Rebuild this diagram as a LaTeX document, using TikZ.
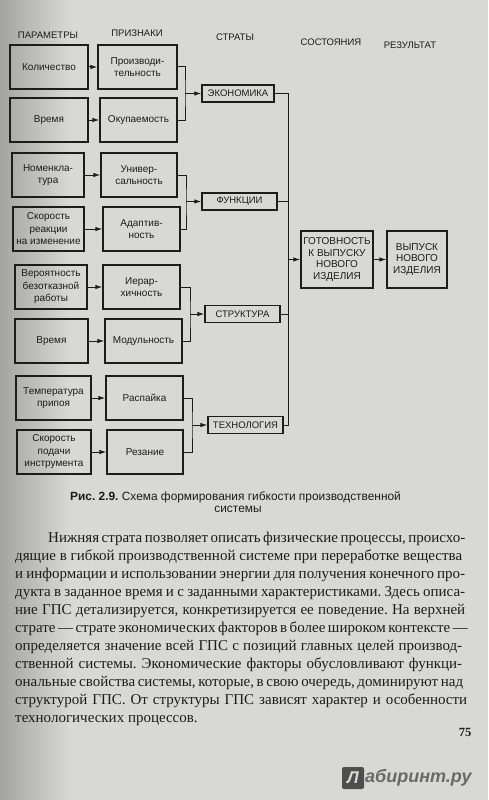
\documentclass[tikz,border=0pt]{standalone}
\usepackage{fontspec}
\setmainfont{Liberation Serif}
\newfontfamily\diag{Liberation Sans}
\usetikzlibrary{arrows.meta}
\definecolor{paper}{HTML}{D8D8D6}
\definecolor{paperdark}{HTML}{A4A4A2}
\definecolor{ink}{HTML}{1C1C1C}
\definecolor{logo}{HTML}{4E4E4E}
\frenchspacing
\tikzset{
  hdr/.style={font=\diag\fontsize{9.5}{11}\selectfont, text=ink, inner sep=0pt},
  pbox/.style={draw=ink, line width=1.2pt, font=\diag\fontsize{10}{12.5}\selectfont, text=ink, align=center, inner sep=1pt, minimum height=44pt},
  sbox/.style={draw=ink, line width=1.2pt, font=\diag\fontsize{9.5}{11}\selectfont, text=ink, inner sep=1pt, minimum height=17pt, minimum width=75pt},
  rbox/.style={draw=ink, line width=1.2pt, font=\diag\fontsize{10}{11.5}\selectfont, text=ink, align=center, inner sep=1pt, minimum height=57pt},
  link/.style={draw=ink, line width=1pt},
  arr/.style={link, -{Latex[length=7pt,width=4.5pt]}},
  body/.style={font=\fontsize{15}{18}\selectfont, text=ink, inner sep=0pt, anchor=base west},
}
\begin{document}
\begin{tikzpicture}[x=1pt,y=-1pt]
\useasboundingbox (0,0) rectangle (488,800);
\fill[paper] (0,0) rectangle (488,800);
\shade[left color=paperdark, right color=paper] (0,0) rectangle (70,800);

% headers
\node[hdr] (h1) at (48,35) {ПАРАМЕТРЫ};
\node[hdr] (h2) at (137,33) {ПРИЗНАКИ};
\node[hdr] (h3) at (235,37) {СТРАТЫ};
\node[hdr] (h4) at (331,42) {СОСТОЯНИЯ};
\node[hdr] (h5) at (410,45) {РЕЗУЛЬТАТ};

% parameters
\node[pbox, minimum width=78pt] (l1) at (49,67) {Количество};
\node[pbox, minimum width=78pt] (l2) at (49,120) {Время};
\node[pbox, minimum width=72pt] (l3) at (48,175) {Номенкла-\\тура};
\node[pbox, minimum width=71pt] (l4) at (48.5,229) {Скорость\\реакции\\на изменение};
\node[pbox, minimum width=72pt] (l5) at (51,287) {Вероятность\\безотказной\\работы};
\node[pbox, minimum width=73pt] (l6) at (51.5,341) {Время};
\node[pbox, minimum width=75pt] (l7) at (53.5,398) {Температура\\припоя};
\node[pbox, minimum width=74pt] (l8) at (54,452) {Скорость\\подачи\\инструмента};

% features
\node[pbox, minimum width=79pt] (m1) at (137.5,67) {Производи-\\тельность};
\node[pbox, minimum width=77pt] (m2) at (138.5,120) {Окупаемость};
\node[pbox, minimum width=76pt] (m3) at (139,175) {Универ-\\сальность};
\node[pbox, minimum width=77pt] (m4) at (141.5,229) {Адаптив-\\ность};
\node[pbox, minimum width=77pt] (m5) at (141.5,287) {Иерар-\\хичность};
\node[pbox, minimum width=77pt] (m6) at (143.5,341) {Модульность};
\node[pbox, minimum width=77pt] (m7) at (144.5,398) {Распайка};
\node[pbox, minimum width=76pt] (m8) at (145,452) {Резание};

\foreach \i in {1,...,8}{\draw[arr] (l\i) -- (m\i);}

% strata
\node[sbox, minimum width=72pt] (s1) at (238,93.5) {ЭКОНОМИКА};
\node[sbox] (s2) at (239.5,201.5) {ФУНКЦИИ};
\node[sbox] (s3) at (242.5,314) {СТРУКТУРА};
\node[sbox] (s4) at (245.5,425) {ТЕХНОЛОГИЯ};

\coordinate (j1) at (185,93.5);
\coordinate (j2) at (186,201.5);
\coordinate (j3) at (190,314);
\coordinate (j4) at (192,425);
\draw[link] (m1.east) -| (j1) |- (m2.east);
\draw[link] (m3.east) -| (j2) |- (m4.east);
\draw[link] (m5.east) -| (j3) |- (m6.east);
\draw[link] (m7.east) -| (j4) |- (m8.east);
\draw[arr] (j1) -- (s1);
\draw[arr] (j2) -- (s2);
\draw[arr] (j3) -- (s3);
\draw[arr] (j4) -- (s4);

% state and result
\node[rbox, minimum width=72pt] (g) at (337,259.5) {ГОТОВНОСТЬ\\К ВЫПУСКУ\\НОВОГО\\ИЗДЕЛИЯ};
\node[rbox, minimum width=60pt] (v) at (417,259.5) {ВЫПУСК\\НОВОГО\\ИЗДЕЛИЯ};

\coordinate (t1) at (288,93.5);
\coordinate (t4) at (288,425);
\coordinate (tg) at (288,259.5);
\draw[link] (s1.east) -- (t1) -- (t4) -- (s4.east);
\draw[link] (s2.east) -- (s2.east -| t1);
\draw[link] (s3.east) -- (s3.east -| t1);
\draw[arr] (tg) -- (g);
\draw[arr] (g) -- (v);

% caption
\node[inner sep=0pt, anchor=west, text=ink, font=\diag\fontsize{11.9}{13}\selectfont] (cap1) at (70,497) {\textbf{Рис. 2.9.} Схема формирования гибкости производственной};
\node[inner sep=0pt, text=ink, font=\diag\fontsize{11.9}{13}\selectfont] (cap2) at (238,509) {системы};

% body text
\node[body] (b1) at (48,542) {\makebox[415pt][s]{Нижняя страта позволяет описать физические процессы, происхо-}};
\node[body] (b2) at (15,560) {\makebox[447pt][s]{дящие в гибкой производственной системе при переработке вещества}};
\node[body] (b3) at (15,578) {\makebox[450pt][s]{и информации и использовании энергии для получения конечного про-}};
\node[body] (b4) at (15,596) {\makebox[450pt][s]{дукта в заданное время и с заданными характеристиками. Здесь описа-}};
\node[body] (b5) at (15,614) {\makebox[450pt][s]{ние ГПС детализируется, конкретизируется ее поведение. На верхней}};
\node[body] (b6) at (15,632) {\makebox[446pt][s]{страте — страте экономических факторов в более широком контексте —}};
\node[body] (b7) at (15,650) {\makebox[447pt][s]{определяется значение всей ГПС с позиций главных целей производ-}};
\node[body] (b8) at (15,668) {\makebox[447pt][s]{ственной системы. Экономические факторы обусловливают функци-}};
\node[body] (b9) at (15,686) {\makebox[448pt][s]{ональные свойства системы, которые, в свою очередь, доминируют над}};
\node[body] (b10) at (15,704) {\makebox[452pt][s]{структурой ГПС. От структуры ГПС зависят характер и особенности}};
\node[body] (b11) at (15,722) {технологических процессов.};

\node[inner sep=0pt, text=ink, font=\bfseries\fontsize{12.5}{14}\selectfont] (pg) at (465,732) {75};

% watermark
\node[fill=logo, rounded corners=2pt, minimum width=22pt, minimum height=22pt, inner sep=0pt, text=paper, font=\diag\bfseries\itshape\fontsize{17}{18}\selectfont] (lg) at (353,778) {Л};
\node[inner sep=0pt, anchor=west, text=logo!85, font=\diag\bfseries\itshape\fontsize{18}{20}\selectfont] (lt) at (365,778) {абиринт.ру};
\end{tikzpicture}
\end{document}
